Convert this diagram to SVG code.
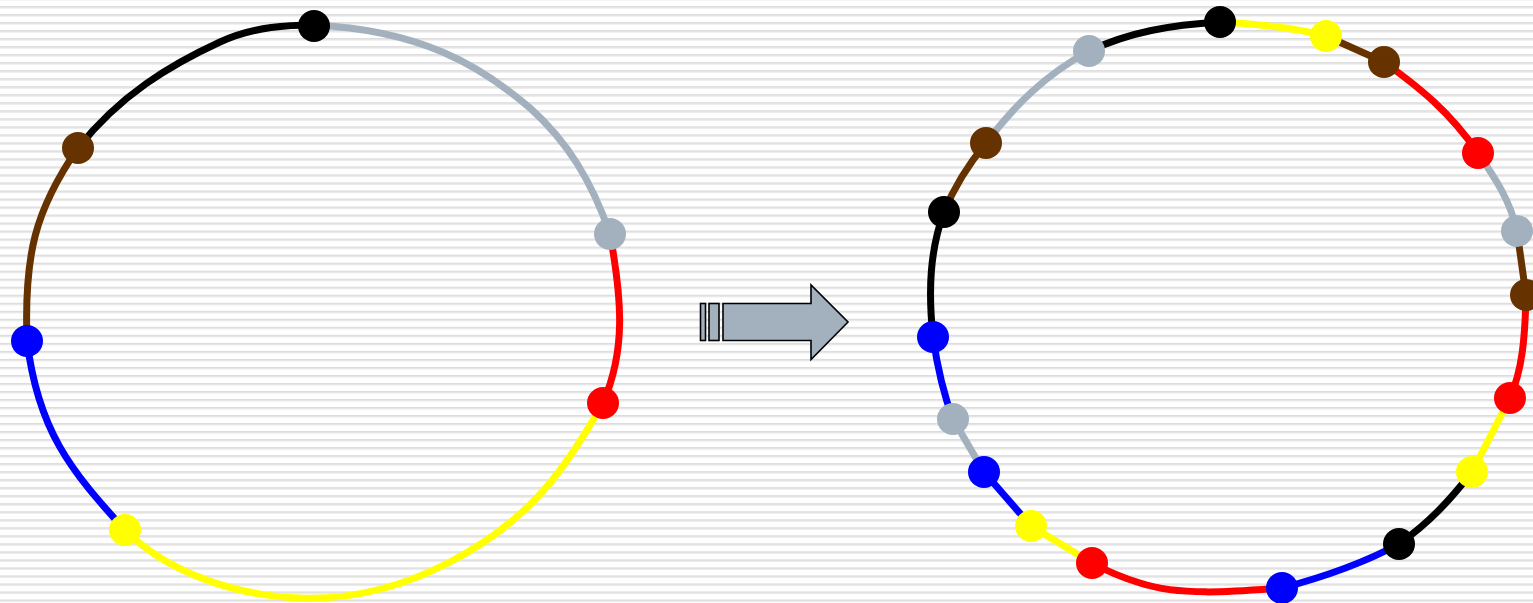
<svg xmlns="http://www.w3.org/2000/svg" width="1533" height="603" viewBox="0 0 1533 603">
  <defs>
    <pattern id="stripes" x="0" y="6" width="16" height="8.02" patternUnits="userSpaceOnUse">
      <rect x="0" y="0" width="16" height="8.02" fill="#ffffff"/>
      <rect x="0" y="0" width="16" height="1.6" fill="#dcdcdc"/>
      <rect x="0" y="1.6" width="16" height="1" fill="#ececec"/>
    </pattern>
  </defs>
  <style>
    .e { fill: none; stroke-width: 7; stroke-linecap: butt; }
    .k { stroke: #000000; } .kf { fill: #000000; }
    .g { stroke: #a3b1bf; } .gf { fill: #a3b1bf; }
    .r { stroke: #ff0000; } .rf { fill: #ff0000; }
    .y { stroke: #ffff00; } .yf { fill: #ffff00; }
    .b { stroke: #0000ff; } .bf { fill: #0000ff; }
    .n { stroke: #663300; } .nf { fill: #663300; }
    .arrow { fill: #a3b1bf; stroke: #000000; stroke-width: 1.6; stroke-linejoin: miter; }
  </style>

  <rect width="1533" height="603" fill="url(#stripes)"/>

  <!-- left ring: connectors -->
  <g id="left-edges">
    <path class="e k" d="M78,148 C120,95 170,65 220,42 C255,26 290,25 314,25"/>
    <path class="e g" d="M314,25 C420,30 480,65 530,108 C568,142 592,182 610,234"/>
    <path class="e r" d="M610,234 C622,300 626,350 603,403"/>
    <path class="e y" d="M603,403 C565,470 530,520 450,562 C400,588 350,600 300,598 C240,596 170,575 125,530"/>
    <path class="e b" d="M125,530 C70,470 38,430 27,341"/>
    <path class="e n" d="M27,341 C24,255 35,210 78,148"/>
  </g>

  <!-- left ring: nodes -->
  <g id="left-nodes">
    <circle id="L-black" class="kf" cx="314" cy="26" r="16"/>
    <circle id="L-brown" class="nf" cx="78" cy="148" r="16"/>
    <circle id="L-blue" class="bf" cx="27" cy="341" r="16"/>
    <circle id="L-yellow" class="yf" cx="125" cy="530" r="16"/>
    <circle id="L-red" class="rf" cx="603" cy="403" r="16"/>
    <circle id="L-grey" class="gf" cx="610" cy="234" r="16"/>
  </g>

  <!-- block arrow -->
  <g id="arrow">
    <rect class="arrow" x="700.5" y="303.5" width="5" height="37"/>
    <rect class="arrow" x="709" y="303.5" width="10" height="37"/>
    <path class="arrow" d="M723,303.5 L811,303.5 L811,285 L848,322 L811,359.5 L811,340.5 L723,340.5 Z"/>
  </g>

  <!-- right ring: connectors -->
  <g id="right-edges">
    <path class="e y" d="M1220,22 C1260,24 1295,28 1326,36"/>
    <path class="e n" d="M1326,36 L1384,62"/>
    <path class="e r" d="M1384,62 C1420,88 1450,112 1478,153"/>
    <path class="e g" d="M1478,153 C1495,178 1510,200 1517,231"/>
    <path class="e n" d="M1517,231 L1526,295"/>
    <path class="e r" d="M1526,295 C1525,340 1522,370 1510,398"/>
    <path class="e y" d="M1510,398 L1472,472"/>
    <path class="e k" d="M1472,472 C1450,500 1430,522 1399,544"/>
    <path class="e b" d="M1399,544 C1360,565 1320,578 1282,588"/>
    <path class="e r" d="M1282,588 C1230,592 1180,596 1140,583 C1120,577 1105,570 1092,563"/>
    <path class="e y" d="M1092,563 L1031,526"/>
    <path class="e b" d="M1031,526 L984,472"/>
    <path class="e g" d="M984,472 L953,419"/>
    <path class="e b" d="M953,419 C942,390 937,365 933,337"/>
    <path class="e k" d="M933,337 C928,290 930,250 944,212"/>
    <path class="e n" d="M944,212 C955,185 968,165 986,143"/>
    <path class="e g" d="M986,143 C1015,105 1045,75 1089,51"/>
    <path class="e k" d="M1089,51 C1130,32 1170,25 1220,22"/>
  </g>

  <!-- right ring: nodes -->
  <g id="right-nodes">
    <circle id="R-black-1" class="kf" cx="1220" cy="22" r="16"/>
    <circle id="R-yellow-1" class="yf" cx="1326" cy="36" r="16"/>
    <circle id="R-brown-1" class="nf" cx="1384" cy="62" r="16"/>
    <circle id="R-red-1" class="rf" cx="1478" cy="153" r="16"/>
    <circle id="R-grey-1" class="gf" cx="1517" cy="231" r="16"/>
    <circle id="R-brown-2" class="nf" cx="1526" cy="295" r="16"/>
    <circle id="R-red-2" class="rf" cx="1510" cy="398" r="16"/>
    <circle id="R-yellow-2" class="yf" cx="1472" cy="472" r="16"/>
    <circle id="R-black-2" class="kf" cx="1399" cy="544" r="16"/>
    <circle id="R-blue-1" class="bf" cx="1282" cy="588" r="16"/>
    <circle id="R-red-3" class="rf" cx="1092" cy="563" r="16"/>
    <circle id="R-yellow-3" class="yf" cx="1031" cy="526" r="16"/>
    <circle id="R-blue-2" class="bf" cx="984" cy="472" r="16"/>
    <circle id="R-grey-2" class="gf" cx="953" cy="419" r="16"/>
    <circle id="R-blue-3" class="bf" cx="933" cy="337" r="16"/>
    <circle id="R-black-3" class="kf" cx="944" cy="212" r="16"/>
    <circle id="R-brown-3" class="nf" cx="986" cy="143" r="16"/>
    <circle id="R-grey-3" class="gf" cx="1089" cy="51" r="16"/>
  </g>
</svg>
